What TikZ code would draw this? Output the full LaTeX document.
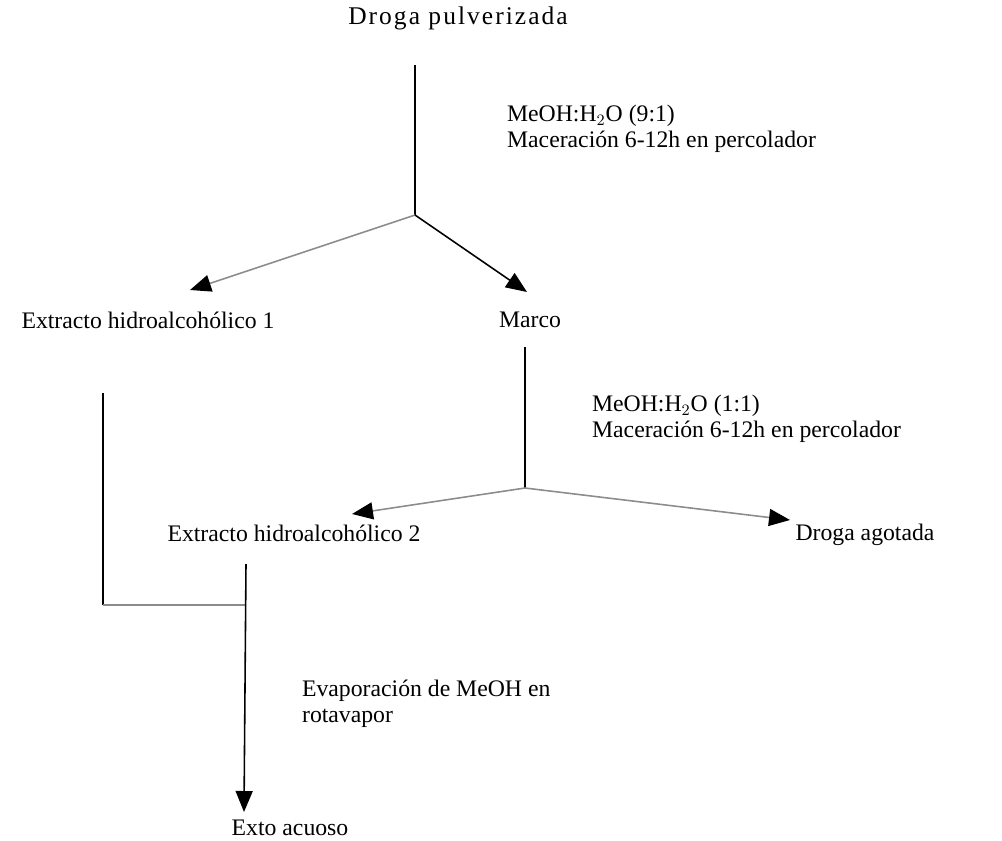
\documentclass[tikz,border=0pt]{standalone}
\usepackage{fontspec}
\setmainfont{Liberation Serif}
\usetikzlibrary{arrows.meta}
\tikzset{
    txt/.style={inner sep=1pt, font=\fontsize{13.5}{15}\selectfont},
    lbl/.style={txt, align=left, anchor=west},
    flow/.style={line width=0.9pt, -{Triangle[length=0.42cm,width=0.34cm,color=black]}},
    faint/.style={flow, draw=black!45},
    link/.style={line width=0.9pt}
}
\begin{document}
\begin{tikzpicture}[x=0.02cm, y=-0.02cm]
    \useasboundingbox (0,0) rectangle (1002,840);
    % Texts
    \node[txt, font=\fontsize{14.5}{16}\selectfont\addfontfeature{LetterSpace=8}] (droga) at (458,18) {Droga pulverizada};
    \node[lbl] (cond1) at (505,129) {MeOH:H$_2$O (9:1)\\Maceración 6-12h en percolador};
    \node[txt] (ext1) at (148,320) {Extracto hidroalcohólico 1};
    \node[txt] (marco) at (530,320) {Marco};
    \node[lbl] (cond2) at (590,419) {MeOH:H$_2$O (1:1)\\Maceración 6-12h en percolador};
    \node[txt] (ext2) at (294,533) {Extracto hidroalcohólico 2};
    \node[txt] (agot) at (865,535) {Droga agotada};
    \node[lbl] (evap) at (300,704) {Evaporación de MeOH en\\rotavapor};
    \node[txt] (acuoso) at (290,828) {Exto acuoso};
    % Junctions
    \coordinate (t1) at (415,65);
    \coordinate (j1) at (415,215);
    \coordinate (e1) at (190,290);
    \coordinate (m1) at (527,292);
    \coordinate (t2) at (525,347);
    \coordinate (j2) at (525,488);
    \coordinate (e2) at (352,514);
    \coordinate (a2) at (790,520);
    \coordinate (t3) at (103,393);
    \coordinate (c3) at (103,605);
    \coordinate (t4) at (246,564);
    \coordinate (c4) at (246,605);
    \coordinate (b4) at (244,812);
    % Connectors
    \draw[link] (t1) -- (j1);
    \draw[faint] (j1) -- (e1);
    \draw[flow] (j1) -- (m1);
    \draw[link] (t2) -- (j2);
    \draw[faint] (j2) -- (e2);
    \draw[faint] (j2) -- (a2);
    \draw[link] (t3) -- (c3);
    \draw[link, draw=black!45] (c3) -- (c4);
    \draw[flow] (t4) -- (b4);
\end{tikzpicture}
\end{document}
